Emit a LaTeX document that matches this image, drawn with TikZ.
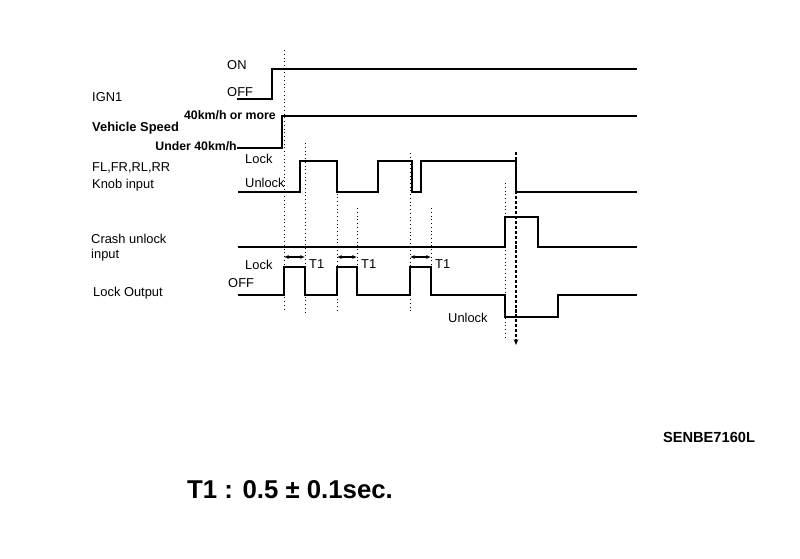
\documentclass[tikz,border=0pt]{standalone}
\usepackage{fontspec}
\setmainfont{Liberation Sans}
\usetikzlibrary{positioning,arrows.meta}

\begin{document}
\begin{tikzpicture}[
  x=0.3mm, y=-0.3mm,
  every node/.style={font=\fontsize{11}{14}\selectfont, inner sep=0pt},
  lbl/.style={anchor=west, align=left},
  lvl/.style={anchor=west},
  lvlb/.style={anchor=east, font=\bfseries\fontsize{10.5}{13}\selectfont},
  wave/.style={line width=1.5pt},
  guide/.style={line width=0.8pt, dash pattern=on 0.8pt off 2.4pt},
  crashmark/.style={line width=1.5pt, dash pattern=on 2.6pt off 1.6pt,
                    -{Stealth[length=5pt, width=4pt]}},
  tarr/.style={line width=0.9pt,
               {Latex[length=4pt, width=3.5pt]}-{Latex[length=4pt, width=3.5pt]}}
]
\useasboundingbox (0,0) rectangle (800,558);

%% --- Signal names --------------------------------------------
\node[lbl] (ign) at (92,97) {IGN1};
\node[lbl, font=\bfseries\fontsize{11}{14}\selectfont] (speed) at (92,128) {Vehicle Speed};
\node[lbl] (knob) at (92,177) {FL,FR,RL,RR\\Knob input};
\node[lbl, font=\fontsize{11}{13}\selectfont] (crash) at (91,248) {Crash unlock\\input};
\node[lbl] (lockout) at (93,293) {Lock Output};

%% --- Level labels --------------------------------------------
\node[lvl] (ign-on)  at (227,65) {ON};
\node[lvl] (ign-off) at (227,92) {OFF};
\node[lvlb] (spd-hi) at (276,115) {40km/h or more};
\node[lvlb] (spd-lo) at (237,146) {Under 40km/h};
\node[lvl] (knb-lock)   at (245,159) {Lock};
\node[lvl] (knb-unlock) at (245,183) {Unlock};
\node[lvl] (out-lock)   at (245,265) {Lock};
\node[lvl] (out-off)    at (228,283) {OFF};
\node[lvl] (out-unlock) at (448,318) {Unlock};

%% --- Waveforms -----------------------------------------------
\draw[wave] (237,99) -- (272,99) -- (272,69) -- (637,69);
\draw[wave] (237,148) -- (282,148) -- (282,116) -- (637,116);
\draw[wave] (238,192) -- (300,192) -- (300,161) -- (337,161)
  -- (337,192) -- (378,192) -- (378,161) -- (412,161) -- (412,192)
  -- (421,192) -- (421,161) -- (516,161) -- (516,192) -- (637,192);
\draw[wave] (238,247) -- (505,247) -- (505,217) -- (538,217)
  -- (538,247) -- (637,247);
\draw[wave] (238,295) -- (284,295) -- (284,267) -- (305,267)
  -- (305,295) -- (337,295) -- (337,267) -- (357,267) -- (357,295)
  -- (410,295) -- (410,267) -- (431,267) -- (431,295) -- (505,295)
  -- (505,317) -- (558,317) -- (558,295) -- (637,295);

%% --- Timing guides -------------------------------------------
\draw[guide] (284,50)  -- (284,310);
\draw[guide] (305,143) -- (305,312);
\draw[guide] (337,160) -- (337,312);
\draw[guide] (357,208) -- (357,265);
\draw[guide] (410,153) -- (410,312);
\draw[guide] (431,208) -- (431,265);
\draw[guide] (505,183) -- (505,340);
\coordinate (crash-top) at (516,152);
\coordinate (crash-end) at (516,345);
\draw[crashmark] (crash-top) -- (crash-end);

%% --- T1 intervals --------------------------------------------
\foreach \a/\b in {284/305, 337/357, 410/431} {
  \coordinate (t1s-\a) at (\a,257);
  \coordinate (t1e-\a) at (\b,257);
  \draw[tarr] (t1s-\a) -- (t1e-\a);
  \node[lvl] (t1-\a) at (\b+4,264) {T1};
}

%% --- Notes ---------------------------------------------------
\node[font=\bfseries\fontsize{12.5}{15}\selectfont] (code) at (709,437) {SENBE7160L};
\node[anchor=west, font=\bfseries\fontsize{22}{26}\selectfont] (note) at (187,490)
     {T1 : 0.5 ± 0.1sec.};

\end{tikzpicture}
\end{document}
